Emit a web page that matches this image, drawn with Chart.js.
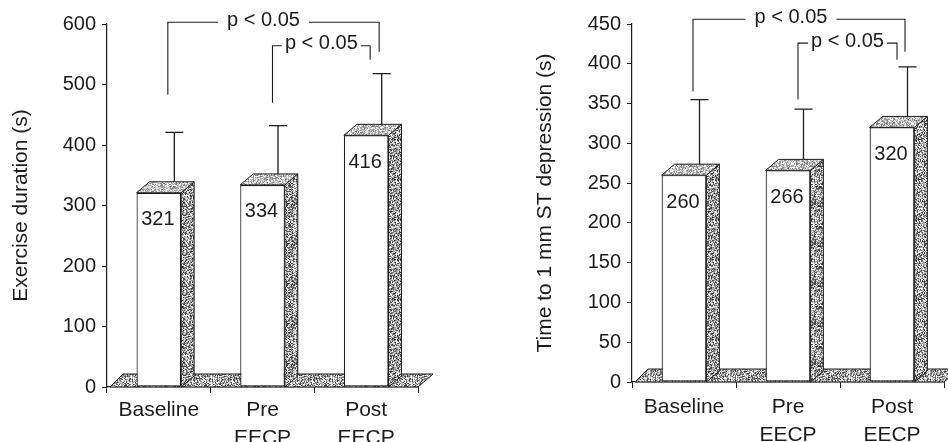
<!DOCTYPE html>
<html>
<head>
<meta charset="utf-8">
<script src="https://cdn.jsdelivr.net/npm/chart.js@4.4.1/dist/chart.umd.min.js"></script>
<style>
  html, body { margin: 0; padding: 0; background: #fff; }
  body { width: 948px; height: 442px; position: relative; overflow: hidden; }
  canvas { position: absolute; top: 0; }
  #durationChart { left: 0; }
  #stChart { left: 478px; }
</style>
</head>
<body>
<canvas id="durationChart" width="470" height="442"></canvas>
<canvas id="stChart" width="470" height="442"></canvas>
<script>
// dados
const categories = [['Baseline'], ['Pre', 'EECP'], ['Post', 'EECP']];
const durationMean = [321, 334, 416];
const durationSD = [100, 98, 102];
const durationTicks = [0, 100, 200, 300, 400, 500, 600];
const stMean = [260, 266, 320];
const stSD = [95, 77, 76];
const stTicks = [0, 50, 100, 150, 200, 250, 300, 350, 400, 450];
const comparisons = [[0, 2], [1, 2]];
const pLabels = ['p < 0.05', 'p < 0.05'];

const INK = '#1c1c1c';
const FONT = '"Liberation Sans", Arial, Helvetica, sans-serif';
const DX = 13, DY = 11;

// textura pontilhada (determinística)
function stipple(ctx, base, spread, seed) {
    const c = document.createElement('canvas');
    c.width = 40; c.height = 40;
    const g = c.getContext('2d');
    const img = g.createImageData(40, 40);
    for (let i = 0; i < 1600; i++) {
        let n = Math.sin((i + seed) * 78.233 + 12.9898) * 43758.5453;
        n = n - Math.floor(n);
        const v = Math.max(0, Math.min(255, base + (n - 0.5) * spread));
        img.data[i * 4] = img.data[i * 4 + 1] = img.data[i * 4 + 2] = v;
        img.data[i * 4 + 3] = 255;
    }
    g.putImageData(img, 0, 0);
    return ctx.createPattern(c, 'repeat');
}

function poly(ctx, pts, fill) {
    ctx.beginPath();
    ctx.moveTo(pts[0][0], pts[0][1]);
    for (let i = 1; i < pts.length; i++) ctx.lineTo(pts[i][0], pts[i][1]);
    ctx.closePath();
    ctx.fillStyle = fill;
    ctx.fill();
    ctx.stroke();
}

const bar3d = {
    id: 'bar3d',
    beforeDatasetsDraw(chart) {
        const { ctx, chartArea: a } = chart;
        const y0 = chart.scales.y.getPixelForValue(0);
        ctx.save();
        ctx.strokeStyle = INK;
        ctx.lineWidth = 1;
        poly(ctx, [[a.left + 3, y0], [a.right, y0], [a.right + DX + 2, y0 - DY - 2], [a.left + 3 + DX, y0 - DY - 2]],
            stipple(ctx, 168, 230, 7));
        ctx.restore();
    },
    afterDatasetsDraw(chart, args, opts) {
        const { ctx } = chart;
        const y = chart.scales.y;
        const y0 = y.getPixelForValue(0);
        const bars = chart.getDatasetMeta(0).data;
        const means = chart.data.datasets[0].data;
        const side = stipple(ctx, 160, 240, 3);
        const top = stipple(ctx, 195, 150, 11);

        ctx.save();
        ctx.strokeStyle = INK;
        ctx.lineWidth = 1;
        bars.forEach((b, i) => {
            const xl = b.x - b.width / 2, xr = b.x + b.width / 2, yt = b.y;
            poly(ctx, [[xr, yt], [xr + DX, yt - DY], [xr + DX, y0 - DY], [xr, y0]], side);
            poly(ctx, [[xl, yt], [xl + DX, yt - DY], [xr + DX, yt - DY], [xr, yt]], top);

            // barra de erro
            const ex = b.x + 15.5;
            const ey = y.getPixelForValue(means[i] + opts.sd[i]);
            ctx.lineWidth = 1.3;
            ctx.beginPath();
            ctx.moveTo(ex, yt - DY);
            ctx.lineTo(ex, ey);
            ctx.moveTo(ex - 9, ey);
            ctx.lineTo(ex + 9, ey);
            ctx.stroke();
            ctx.lineWidth = 1;

            // valor dentro da barra
            ctx.fillStyle = INK;
            ctx.font = '20px ' + FONT;
            ctx.textAlign = 'center';
            ctx.textBaseline = 'middle';
            ctx.fillText(String(means[i]), b.x - 1, yt + 27);
        });

        // colchetes de significância
        ctx.lineWidth = 1.1;
        ctx.font = '20px ' + FONT;
        ctx.textBaseline = 'middle';
        ctx.textAlign = 'center';
        comparisons.forEach(([from, to], k) => {
            const br = opts.brackets[k];
            const x1 = bars[from].x + br.dxFrom;
            const x2 = bars[to].x + br.dxTo;
            const yLow = y.getPixelForValue(br.low);
            const yTop = y.getPixelForValue(br.top);
            const yEnd = y.getPixelForValue(br.end);
            const tw = ctx.measureText(pLabels[k]).width;
            const tx = (x1 + x2) / 2 + br.shift;
            ctx.beginPath();
            ctx.moveTo(x1, yLow);
            ctx.lineTo(x1, yTop);
            ctx.lineTo(tx - tw / 2 - br.gap, yTop);
            ctx.moveTo(tx + tw / 2 + br.gap, yTop);
            ctx.lineTo(x2, yTop);
            ctx.lineTo(x2, yEnd);
            ctx.stroke();
            ctx.fillText(pLabels[k], tx, yTop - 2);
        });
        ctx.restore();
    }
};

function makeChart(id, means, sds, ticks, title, lay) {
    return new Chart(document.getElementById(id), {
        type: 'bar',
        data: {
            labels: categories,
            datasets: [{
                data: means,
                backgroundColor: '#ffffff',
                borderColor: INK,
                borderWidth: 1.2,
                borderSkipped: false,
                barPercentage: 0.43,
                categoryPercentage: 1
            }]
        },
        options: {
            responsive: false,
            animation: false,
            devicePixelRatio: 1,
            layout: { padding: { left: 0, top: 24, right: lay.right, bottom: 0 } },
            plugins: {
                legend: { display: false },
                tooltip: { enabled: false },
                bar3d: { sd: sds, brackets: lay.brackets }
            },
            scales: {
                x: {
                    grid: { offset: true, drawOnChartArea: false, tickLength: 6, color: INK },
                    border: { color: INK, width: 1.2 },
                    ticks: { color: INK, font: { family: FONT, size: 21, lineHeight: 1.33 }, padding: lay.xPad, maxRotation: 0 },
                    afterFit: s => { s.height = lay.xHeight; }
                },
                y: {
                    min: ticks[0],
                    max: ticks[ticks.length - 1],
                    grid: { drawOnChartArea: false, tickLength: 5, color: INK },
                    border: { color: INK, width: 1.2 },
                    ticks: { stepSize: ticks[1] - ticks[0], color: INK, font: { family: FONT, size: 20 }, padding: 6 },
                    title: {
                        display: true, text: title, color: INK,
                        font: { family: FONT, size: 21 },
                        padding: { top: lay.titlePad, bottom: 0 }
                    },
                    afterFit: s => { s.width = lay.yWidth; }
                }
            }
        },
        plugins: [bar3d]
    });
}

makeChart('durationChart', durationMean, durationSD, durationTicks, 'Exercise duration (s)', {
    right: 52, xHeight: 55, yWidth: 107, titlePad: 9, xPad: 3,
    brackets: [
        { low: 483, top: 603, end: 554, dxFrom: 9, dxTo: 13, shift: -10, gap: 9 },
        { low: 470, top: 564, end: 541, dxFrom: 10, dxTo: 4, shift: 0, gap: 3 }
    ]
});

makeChart('stChart', stMean, stSD, stTicks, 'Time to 1 mm ST depression (s)', {
    right: 4, xHeight: 60, yWidth: 154, titlePad: 55, xPad: 5,
    brackets: [
        { low: 365, top: 456, end: 415, dxFrom: 9, dxTo: 13, shift: -8, gap: 9 },
        { low: 355, top: 426, end: 405, dxFrom: 10, dxTo: 5, shift: 0, gap: 3 }
    ]
});
</script>
</body>
</html>
